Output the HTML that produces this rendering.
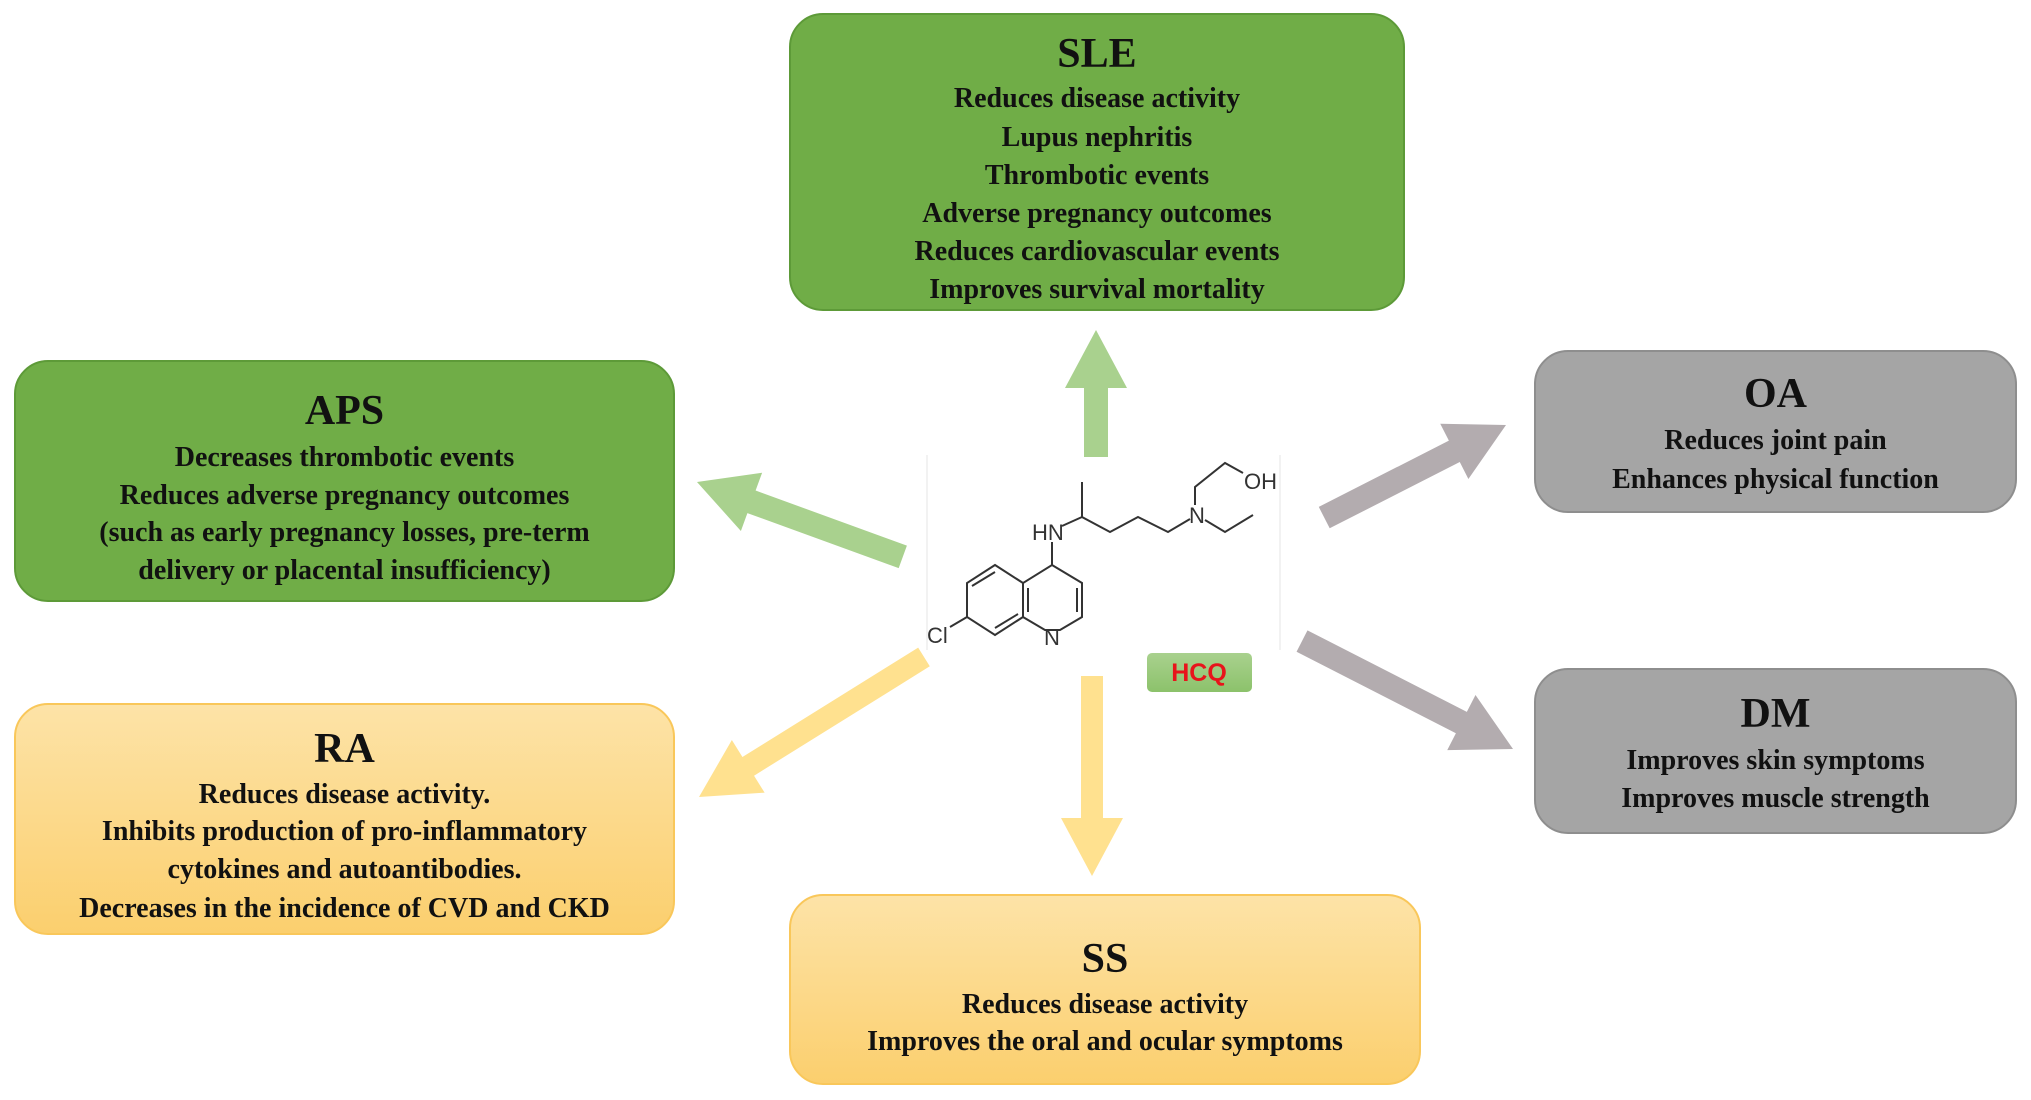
<!DOCTYPE html>
<html><head><meta charset="utf-8"><style>
body{margin:0;width:2031px;height:1100px;background:#fff;position:relative;overflow:hidden;font-family:"Liberation Serif",serif;}
.b{position:absolute;box-sizing:border-box;border-radius:34px;text-align:center;font-weight:bold;color:#111;}
.g{background:#70ad47;border:2px solid #5d9a38;}
.y{background:linear-gradient(#fde3a7,#fbcf6e);border:2px solid #f9c75a;}
.r{background:#a5a5a5;border:2px solid #8e8e8e;}
.t{position:absolute;left:0;right:0;font-size:42px;line-height:42px;}
.l{position:absolute;left:0;right:0;font-size:28px;line-height:30px;white-space:nowrap;}
</style></head><body>
<div class="b g" style="left:789px;top:13px;width:616px;height:298px">
<div class="t" style="top:18px">SLE</div>
<div class="l" style="top:69px">Reduces disease activity</div>
<div class="l" style="top:108px">Lupus nephritis</div>
<div class="l" style="top:146px">Thrombotic events</div>
<div class="l" style="top:184px">Adverse pregnancy outcomes</div>
<div class="l" style="top:222px">Reduces cardiovascular events</div>
<div class="l" style="top:260px">Improves survival mortality</div>
</div>
<div class="b g" style="left:14px;top:360px;width:661px;height:242px">
<div class="t" style="top:28px">APS</div>
<div class="l" style="top:81px">Decreases thrombotic events</div>
<div class="l" style="top:119px">Reduces adverse pregnancy outcomes</div>
<div class="l" style="top:156px">(such as early pregnancy losses, pre-term</div>
<div class="l" style="top:194px">delivery or placental insufficiency)</div>
</div>
<div class="b y" style="left:14px;top:703px;width:661px;height:232px">
<div class="t" style="top:23px">RA</div>
<div class="l" style="top:75px">Reduces disease activity.</div>
<div class="l" style="top:112px">Inhibits production of pro-inflammatory</div>
<div class="l" style="top:150px">cytokines and autoantibodies.</div>
<div class="l" style="top:189px">Decreases in the incidence of CVD and CKD</div>
</div>
<div class="b y" style="left:789px;top:894px;width:632px;height:191px">
<div class="t" style="top:42px">SS</div>
<div class="l" style="top:94px">Reduces disease activity</div>
<div class="l" style="top:131px">Improves the oral and ocular symptoms</div>
</div>
<div class="b r" style="left:1534px;top:350px;width:483px;height:163px">
<div class="t" style="top:21px">OA</div>
<div class="l" style="top:74px">Reduces joint pain</div>
<div class="l" style="top:113px">Enhances physical function</div>
</div>
<div class="b r" style="left:1534px;top:668px;width:483px;height:166px">
<div class="t" style="top:23px">DM</div>
<div class="l" style="top:76px">Improves skin symptoms</div>
<div class="l" style="top:114px">Improves muscle strength</div>
</div>
<svg width="2031" height="1100" style="position:absolute;left:0;top:0">
<defs><polygon id="ar" points="0,-12 -58,-12 -58,-31 0,0 -58,31 -58,12"/></defs>
<g transform="translate(1096,330) rotate(-90)"><polygon fill="#a9d18e" points="0,0 -58,-31 -58,-12 -127,-12 -127,12 -58,12 -58,31"/></g>
<g transform="translate(697,482) rotate(200)"><polygon fill="#a9d18e" points="0,0 -58,-31 -58,-12 -219,-12 -219,12 -58,12 -58,31"/></g>
<g transform="translate(699,797) rotate(148.1)"><polygon fill="#ffe18f" points="0,0 -58,-31 -58,-11 -265,-11 -265,11 -58,11 -58,31"/></g>
<g transform="translate(1092,876) rotate(90)"><polygon fill="#ffe18f" points="0,0 -58,-31 -58,-11 -200,-11 -200,11 -58,11 -58,31"/></g>
<g transform="translate(1506,425) rotate(-27)"><polygon fill="#b3acaf" points="0,0 -58,-31 -58,-12 -204,-12 -204,12 -58,12 -58,31"/></g>
<g transform="translate(1513,749) rotate(27.1)"><polygon fill="#b3acaf" points="0,0 -58,-31 -58,-12 -237,-12 -237,12 -58,12 -58,31"/></g>
<line x1="927" y1="455" x2="927" y2="650" stroke="#f2f2f2" stroke-width="2"/>
<line x1="1280" y1="455" x2="1280" y2="650" stroke="#f2f2f2" stroke-width="2"/>
<g stroke="#333" stroke-width="2" fill="none">
<polyline points="1082,482 1082,517 1110,532 1138,517 1168,532 1190,519"/>
<line x1="1062" y1="526" x2="1082" y2="517"/>
<polyline points="1195,505 1195,487 1225,463 1243,473"/>
<polyline points="1205,520 1225,532 1253,515"/>
<line x1="1052" y1="542" x2="1052" y2="565"/>
<polygon points="1052,565 1082,583 1082,617 1060,630 1045,630 1023,617 1023,583"/>
<polyline points="1023,583 995,565 967,583 967,617 995,635 1023,617"/>
<line x1="967" y1="617" x2="950" y2="627"/>
<line x1="1077" y1="588" x2="1077" y2="612"/>
<line x1="1028" y1="612" x2="1028" y2="588"/>
<line x1="972" y1="586" x2="995" y2="572"/>
<line x1="995" y1="628" x2="1018" y2="614"/>
</g>
<g font-family="Liberation Sans,sans-serif" font-size="22" fill="#333">
<text x="1032" y="540">HN</text>
<text x="1189" y="523">N</text>
<text x="1244" y="489">OH</text>
<text x="1044" y="645">N</text>
<text x="927" y="643">Cl</text>
</g>
<defs><linearGradient id="hg" x1="0" y1="0" x2="0" y2="1"><stop offset="0" stop-color="#a9d18e"/><stop offset="1" stop-color="#8cc26b"/></linearGradient></defs>
<rect x="1147" y="653" width="105" height="39" rx="5" fill="url(#hg)"/>
<text x="1199" y="681" text-anchor="middle" font-family="Liberation Sans,sans-serif" font-weight="bold" font-size="25" fill="#e8141b">HCQ</text>
</svg>
</body></html>
